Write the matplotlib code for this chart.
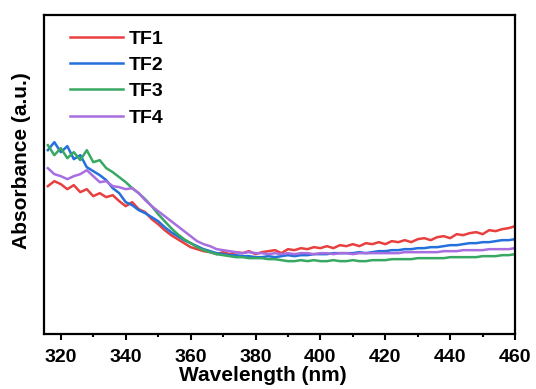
import numpy as np
import matplotlib
matplotlib.use('Agg')
import matplotlib.pyplot as plt
from matplotlib.ticker import MultipleLocator

plt.rcParams['font.family'] = ['Liberation Sans', 'DejaVu Sans']
plt.rcParams['font.weight'] = 'bold'

###########################################
# Data
###########################################

wl = np.arange(316, 461, 2)  # wavelength (nm)

tf1 = [1.48, 1.53, 1.50, 1.45, 1.49, 1.42, 1.45, 1.38, 1.41, 1.37,
       1.39, 1.33, 1.28, 1.32, 1.25, 1.22, 1.15, 1.10, 1.04, 0.99,
       0.95, 0.91, 0.87, 0.85, 0.83, 0.82, 0.80, 0.82, 0.80, 0.82,
       0.81, 0.83, 0.80, 0.82, 0.83, 0.84, 0.81, 0.85, 0.84, 0.86,
       0.85, 0.87, 0.86, 0.88, 0.86, 0.89, 0.88, 0.90, 0.88, 0.91,
       0.90, 0.92, 0.90, 0.93, 0.92, 0.94, 0.92, 0.95, 0.96, 0.94,
       0.97, 0.98, 0.96, 1.00, 0.99, 1.01, 1.02, 1.00, 1.04, 1.03,
       1.05, 1.06, 1.08]

tf2 = [1.84, 1.92, 1.82, 1.88, 1.75, 1.79, 1.67, 1.63, 1.59, 1.54,
       1.46, 1.41, 1.32, 1.29, 1.24, 1.21, 1.17, 1.13, 1.07, 1.02,
       0.98, 0.94, 0.91, 0.88, 0.85, 0.83, 0.81, 0.80, 0.79, 0.79,
       0.78, 0.78, 0.77, 0.77, 0.78, 0.77, 0.78, 0.79, 0.78, 0.79,
       0.79, 0.80, 0.80, 0.80, 0.81, 0.81, 0.81, 0.81, 0.82, 0.81,
       0.82, 0.83, 0.83, 0.84, 0.84, 0.85, 0.85, 0.86, 0.86, 0.87,
       0.87, 0.88, 0.89, 0.89, 0.90, 0.91, 0.91, 0.92, 0.92, 0.93,
       0.94, 0.94, 0.95]

tf3 = [1.89, 1.79, 1.86, 1.76, 1.82, 1.74, 1.84, 1.72, 1.74, 1.66,
       1.62, 1.57, 1.52, 1.46, 1.41, 1.35, 1.28, 1.20, 1.13, 1.06,
       1.00, 0.95, 0.91, 0.87, 0.84, 0.82, 0.80, 0.79, 0.78, 0.77,
       0.77, 0.76, 0.76, 0.76, 0.75, 0.75, 0.74, 0.73, 0.73, 0.74,
       0.73, 0.74, 0.73, 0.73, 0.74, 0.73, 0.73, 0.74, 0.73, 0.73,
       0.74, 0.74, 0.74, 0.75, 0.75, 0.75, 0.75, 0.76, 0.76, 0.76,
       0.76, 0.76, 0.77, 0.77, 0.77, 0.77, 0.77, 0.78, 0.78, 0.78,
       0.79, 0.79, 0.80]

tf4 = [1.66, 1.60, 1.58, 1.55, 1.58, 1.60, 1.64, 1.58, 1.52, 1.53,
       1.48, 1.47, 1.45, 1.46, 1.41, 1.34, 1.28, 1.23, 1.18, 1.13,
       1.08, 1.03, 0.98, 0.93, 0.90, 0.88, 0.85, 0.84, 0.83, 0.82,
       0.81, 0.82, 0.81, 0.81, 0.80, 0.81, 0.80, 0.81, 0.80, 0.81,
       0.81, 0.80, 0.81, 0.81, 0.80, 0.81, 0.81, 0.80, 0.81, 0.81,
       0.81, 0.81, 0.81, 0.81, 0.81, 0.82, 0.82, 0.82, 0.82, 0.82,
       0.82, 0.83, 0.83, 0.83, 0.84, 0.84, 0.84, 0.84, 0.85, 0.85,
       0.85, 0.85, 0.86]

labels = ['TF1', 'TF2', 'TF3', 'TF4']
colors = ['#e8403f', '#2470dc', '#38a862', '#a86ee0']

###########################################
# Plot
###########################################

fig = plt.figure(figsize=(5.36, 3.89), dpi=100)
ax = fig.add_axes([0.082, 0.141, 0.879, 0.820])

for y, lab, c in zip([tf1, tf2, tf3, tf4], labels, colors):
    ax.plot(wl, y, color=c, lw=1.8, label=lab)

ax.set_xlim(314.8, 460)
ax.set_ylim(0, 3.19)
ax.xaxis.set_major_locator(MultipleLocator(20))
ax.xaxis.set_minor_locator(MultipleLocator(10))
ax.set_yticks([])
ax.tick_params(axis='x', which='major', direction='out', length=4, width=1.5,
               labelsize=14, pad=7)
ax.tick_params(axis='x', which='minor', direction='out', length=2, width=1.5)
for s in ax.spines.values():
    s.set_linewidth(1.6)

ax.set_xlabel('Wavelength (nm)', fontsize=15, fontweight='bold')
ax.set_ylabel('Absorbance (a.u.)', fontsize=15, fontweight='bold')
ax.xaxis.set_label_coords(0.465, -0.10)
ax.yaxis.set_label_coords(-0.028, 0.545)

ax.legend(loc='upper left', bbox_to_anchor=(0.038, 0.978), borderaxespad=0,
          frameon=False, handlelength=2.75, handletextpad=0.3,
          labelspacing=0.45, prop={'weight': 'bold', 'size': 14})

fig.savefig('out.png', dpi=100)
